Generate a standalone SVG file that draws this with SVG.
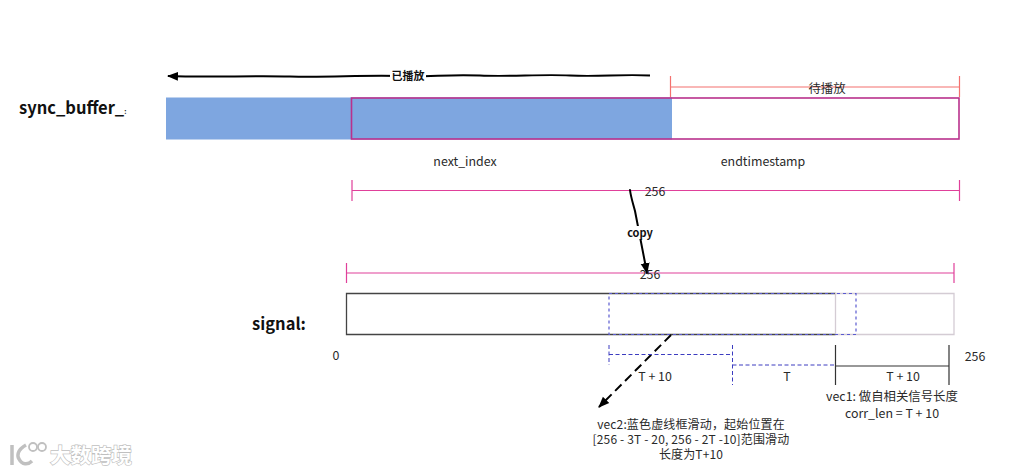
<svg xmlns="http://www.w3.org/2000/svg" width="1018" height="474" viewBox="0 0 1018 474">
<style>
text{font-family:"Noto Sans CJK SC","Noto Sans",sans-serif;font-size:12.4px;fill:#2a2a2a;text-anchor:middle}
.b{font-weight:700;fill:#111}
.h{font-size:16.500px;text-anchor:start}
.s{font-size:11px}
.v{font-size:12px;letter-spacing:.15px}
.pk{stroke:#e0409a;stroke-width:1.2;fill:none}
.rd{stroke:#f4716e;stroke-width:1.2;fill:none}
.bl{stroke:#5a5ad0;stroke-width:1.2;fill:none;stroke-dasharray:3 3}
.bd{stroke:#3c3cc0;stroke-width:1;fill:none;stroke-dasharray:4 2.5}
.k{stroke:#333;stroke-width:1.2;fill:none}
.bk{stroke:#000;fill:none;stroke-width:2}
.wm{fill:#fff;stroke:#c0c0c0;stroke-width:1.300;paint-order:stroke;font-size:20.500px;font-weight:700;text-anchor:start}
</style>
<defs>
<marker id="ah" markerWidth="12" markerHeight="10" refX="10" refY="5" orient="auto" markerUnits="userSpaceOnUse"><path d="M0 0.500 L11 5 L0 9.500 Z" fill="#000"/></marker>
</defs>
<rect width="1018" height="474" fill="#fff"/>
<g id="sync-buffer">
<text class="b h" x="19" y="114">sync_buffer_<tspan font-size="7">:</tspan></text>
<rect x="166" y="97.500" width="506" height="42" fill="#7ea6e0"/>
<rect x="351.500" y="98" width="607.500" height="41" fill="none" stroke="#b9318c" stroke-width="1.600"/>
<text x="465" y="166">next_index</text>
<text x="763" y="166">endtimestamp</text>
</g>
<g id="signal">
<text class="b" x="279" y="330" style="font-size:16.500px">signal:</text>
<path d="M835.500 293.500H346.500V334.500H835.500" fill="none" stroke="#444" stroke-width="1.300"/>
<path d="M835.500 293.500H954V334.500H835.500Z" fill="none" stroke="#d4ccd4" stroke-width="1.300"/>
<rect x="609" y="293.500" width="247" height="41" class="bl"/>
<text x="336" y="360">0</text>
<text x="975" y="361">256</text>
</g>
<g id="connectors">
<path class="bk" marker-end="url(#ah)" d="M650 75.500C620 74 600 77 570 75.500C540 74 510 77 480 75.500C450 74 430 77 400 76C360 75 330 77.500 290 76.500C250 75.500 210 77.500 168 76"/>
<path class="rd" d="M670.500 76V97M670.500 87H959.500M959.500 76V97"/>
<path class="pk" d="M352 180V201M352 190.500H959.500M959.500 180V201"/>
<path class="pk" d="M346.500 263V283M346.500 273H954M954 263V283"/>
<path class="bk" stroke-linecap="round" marker-end="url(#ah)" d="M630 190C631 198 633 203 635 211L647 273"/>
<path class="bk" stroke-dasharray="9 5" marker-end="url(#ah)" d="M671 335L599 407"/>
<path class="bd" d="M609 345V365M609 354.500H732.500M732.500 345V385"/>
<path class="bd" d="M732.500 365H835.500"/>
<path class="k" d="M835.500 345V385M835.500 366H949M949 345V385"/>
</g>
<g id="labels">
<rect x="390" y="70" width="36" height="13" fill="#fff"/>
<text class="b s" x="408" y="80">已播放</text>
<text x="827" y="93">待播放</text>
<text x="655" y="196">256</text>
<rect x="624" y="226" width="32" height="13" fill="#fff"/>
<text class="b s" x="640" y="237">copy</text>
<text x="650" y="279">256</text>
<text x="655" y="381">T + 10</text>
<text x="787" y="381">T</text>
<text x="903" y="381">T + 10</text>
<text x="892" y="401">vec1: 做自相关信号长度</text>
<text x="892" y="418">corr_len = T + 10</text>
<text class="v" x="691" y="428.500">vec2:蓝色虚线框滑动，起始位置在</text>
<text class="v" x="691" y="443.500">[256 - 3T - 20, 256 - 2T -10]范围滑动</text>
<text class="v" x="691" y="458.500">长度为T+10</text>
</g>
<g id="watermark">
<path d="M12 445V465M26 445C17 450 17 456 19 459C22 465 28 465 32 461" fill="none" stroke="#c0c0c0" stroke-width="3.500"/>
<circle cx="33" cy="447" r="4" fill="#fff" stroke="#c0c0c0" stroke-width="1.800"/>
<circle cx="42" cy="447" r="4" fill="#fff" stroke="#c0c0c0" stroke-width="1.800"/>
<text class="wm" x="50" y="463">大数跨境</text>
</g>
</svg>
